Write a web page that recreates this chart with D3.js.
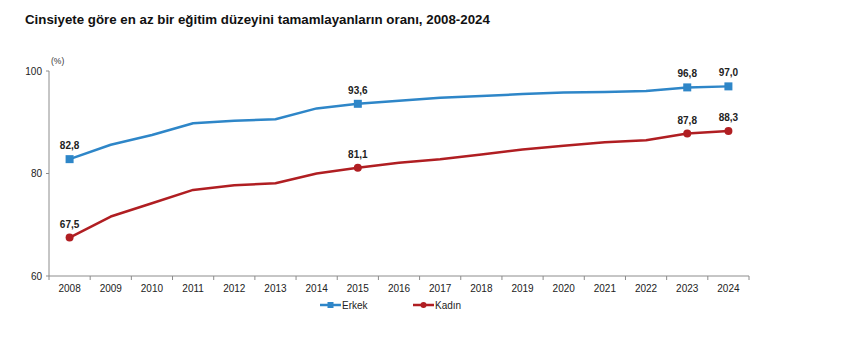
<!DOCTYPE html>
<html><head><meta charset="utf-8">
<script src="https://cdn.jsdelivr.net/npm/d3@7"></script>
<style>body{margin:0;background:#fff}svg{display:block}text{font-family:Arial,"Liberation Sans",sans-serif}</style>
</head><body>
<svg id="c" width="846" height="337"></svg>
<script>
const years = ["2008","2009","2010","2011","2012","2013","2014","2015","2016","2017","2018","2019","2020","2021","2022","2023","2024"];
const erkek = [82.8,85.6,87.5,89.8,90.3,90.6,92.7,93.6,94.2,94.8,95.1,95.5,95.8,95.9,96.1,96.8,97.0];
const kadin = [67.5,71.6,74.2,76.8,77.7,78.1,80.0,81.1,82.1,82.8,83.7,84.7,85.4,86.1,86.5,87.8,88.3];
const yTicks = [60,80,100];
const labeled = ["2008","2015","2023","2024"];
const title = "Cinsiyete göre en az bir eğitim düzeyini tamamlayanların oranı, 2008-2024";

const svg = d3.select("#c");
const x = d3.scaleBand().domain(years).range([49,749]);
const y = d3.scaleLinear().domain([60,100]).range([276,71]);
const axisCol = "#8c8c8c";

svg.append("text").attr("x",25).attr("y",24).attr("font-size",13.3).attr("font-weight","bold").attr("fill","#111").text(title);
svg.append("text").attr("x",51).attr("y",64).attr("font-size",8.5).attr("fill","#333").text("(%)");

// y axis
svg.append("line").attr("x1",49).attr("x2",49).attr("y1",y(100)).attr("y2",y(60)).attr("stroke",axisCol);
yTicks.forEach(t=>{
  svg.append("line").attr("x1",46).attr("x2",49).attr("y1",y(t)).attr("y2",y(t)).attr("stroke",axisCol);
  svg.append("text").attr("x",42).attr("y",y(t)+3.5).attr("text-anchor","end").attr("font-size",10).attr("fill","#222").text(t);
});
// x axis
const xa = svg.append("g").attr("transform",`translate(0,${y(60)})`);
xa.append("line").attr("x1",49).attr("x2",749).attr("stroke",axisCol);
years.forEach((yr,i)=>{
  const bx = x(yr) + x.bandwidth();
  xa.append("line").attr("x1",bx).attr("x2",bx).attr("y1",0).attr("y2",4).attr("stroke",axisCol);
  xa.append("text").attr("x",x(yr)+x.bandwidth()/2).attr("y",16).attr("text-anchor","middle").attr("font-size",10).attr("fill","#222").text(yr);
});
xa.append("line").attr("x1",49).attr("x2",49).attr("y1",0).attr("y2",4).attr("stroke",axisCol);

const cx = d=>x(d)+x.bandwidth()/2;
const series = [
  {name:"Erkek", vals:erkek, color:"#2e86c8", shape:"square"},
  {name:"Kadın", vals:kadin, color:"#b01e22", shape:"circle"}
];
const line = d3.line();
series.forEach(s=>{
  const pts = years.map((yr,i)=>[cx(yr), y(s.vals[i])]);
  svg.append("path").attr("d",line(pts)).attr("fill","none").attr("stroke",s.color).attr("stroke-width",2.5).attr("stroke-linejoin","round");
  years.forEach((yr,i)=>{
    if(!labeled.includes(yr)) return;
    const px=cx(yr), py=y(s.vals[i]);
    if(s.shape==="square") svg.append("rect").attr("x",px-4).attr("y",py-4).attr("width",8).attr("height",8).attr("fill",s.color);
    else svg.append("circle").attr("cx",px).attr("cy",py).attr("r",4).attr("fill",s.color);
    svg.append("text").attr("x",px).attr("y",py-10).attr("text-anchor","middle").attr("font-size",10).attr("font-weight","bold").attr("fill","#222").text(s.vals[i].toFixed(1).replace(".",","));
  });
});
// legend
const lg = [{s:series[0],x:320},{s:series[1],x:413}];
lg.forEach(l=>{
  const ly=305;
  svg.append("line").attr("x1",l.x).attr("x2",l.x+21).attr("y1",ly).attr("y2",ly).attr("stroke",l.s.color).attr("stroke-width",2.5);
  if(l.s.shape==="square") svg.append("rect").attr("x",l.x+7.5).attr("y",ly-3).attr("width",6).attr("height",6).attr("fill",l.s.color);
  else svg.append("circle").attr("cx",l.x+10.5).attr("cy",ly).attr("r",3).attr("fill",l.s.color);
  svg.append("text").attr("x",l.x+22).attr("y",ly+4).attr("font-size",10).attr("fill","#222").text(l.s.name);
});
</script>
</body></html>
